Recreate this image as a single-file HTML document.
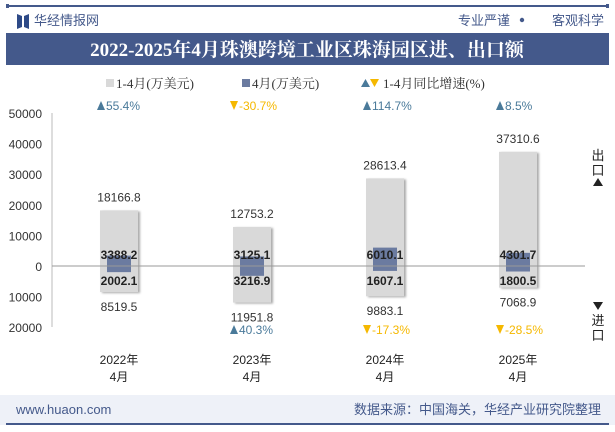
<!DOCTYPE html>
<html><head><meta charset="utf-8"><style>
body{margin:0;width:615px;height:427px;overflow:hidden;background:#fff;font-family:"Liberation Sans","Noto Sans CJK SC",sans-serif;}
</style></head><body>
<svg width="615" height="427" xmlns="http://www.w3.org/2000/svg" font-family="Liberation Sans, Noto Sans CJK SC, sans-serif">
<rect x="6" y="5" width="603" height="2" fill="#44598b"/>
<rect x="6" y="4" width="3" height="4" fill="#44598b"/><rect x="606" y="4" width="3" height="4" fill="#44598b"/>
<g><path d="M17 14 L22 16 L22 27 L17 29 Z M29 14 L24 16 L24 27 L29 29 Z" fill="#2e4a87"/></g>
<text x="34" y="25" font-size="13" fill="#44598b">华经情报网</text>
<text x="510" y="25" font-size="13" fill="#44598b" text-anchor="end">专业严谨</text>
<circle cx="522" cy="20" r="2.2" fill="#44598b"/>
<text x="604" y="25" font-size="13" fill="#44598b" text-anchor="end">客观科学</text>
<rect x="6" y="33" width="603" height="32" fill="#44598b"/>
<text x="307" y="56" font-size="19" font-weight="bold" fill="#fff" text-anchor="middle" font-family="Liberation Serif, Noto Serif CJK SC, serif">2022-2025年4月珠澳跨境工业区珠海园区进、出口额</text>
<g font-size="13" fill="#333" font-family="Liberation Serif, Noto Serif CJK SC, serif">
<rect x="106" y="79" width="8" height="8" fill="#d9d9d9"/><text x="116" y="88">1-4月(万美元)</text>
<rect x="242" y="79" width="8" height="8" fill="#6b7ba0"/><text x="252" y="88">4月(万美元)</text>
<path d="M361 87 L365.5 79 L370 87Z" fill="#4a7a9a"/><path d="M370 79 L379 79 L374.5 87Z" fill="#f5b800"/>
<text x="383" y="88">1-4月同比增速(%)</text>
</g>
<rect x="0" y="395" width="615" height="30" fill="#eef1f8"/>
<text x="16" y="414" font-size="13" fill="#44598b">www.huaon.com</text>
<text x="601" y="414" font-size="13" fill="#44598b" text-anchor="end">数据来源：中国海关，华经产业研究院整理</text>
<rect x="6" y="423" width="603" height="2" fill="#44598b"/>
<g id="plot"></g>
<text x="598" y="160" font-size="13" fill="#222" text-anchor="middle">出</text>
<text x="598" y="175" font-size="13" fill="#222" text-anchor="middle">口</text>
<path d="M593 186 L598 178 L603 186Z" fill="#222"/>
<path d="M593 302 L603 302 L598 310Z" fill="#222"/>
<text x="598" y="325" font-size="13" fill="#222" text-anchor="middle">进</text>
<text x="598" y="340" font-size="13" fill="#222" text-anchor="middle">口</text>
</svg>
<script>
const categories=["2022年","2023年","2024年","2025年"];
const exportYtd=[18166.8,12753.2,28613.4,37310.6];
const importYtd=[8519.5,11951.8,9883.1,7068.9];
const exportApr=[3388.2,3125.1,6010.1,4301.7];
const importApr=[2002.1,3216.9,1607.1,1800.5];
const exportGrowth=[55.4,-30.7,114.7,8.5];
const importGrowth=[null,40.3,-17.3,-28.5];
const yTicks=[50000,40000,30000,20000,10000,0,-10000,-20000];
const NS="http://www.w3.org/2000/svg";
const g=document.getElementById('plot');
const y=v=>266-v*0.00306;
const x=i=>119+i*133;
function el(t,a,p){const e=document.createElementNS(NS,t);for(const k in a)e.setAttribute(k,a[k]);(p||g).appendChild(e);return e;}
yTicks.forEach(v=>{const t=el('text',{x:42,y:y(v)+5,'font-size':12,fill:'#333','text-anchor':'end'});t.textContent=Math.abs(v);

});
el('line',{x1:52,y1:113,x2:52,y2:327,stroke:'#bbb'});
const fmt=v=>v.toFixed(1);
categories.forEach((c,i)=>{
 const cx=x(i);
 const b=el('rect',{x:cx-19,y:y(exportYtd[i]),width:38,height:y(-importYtd[i])-y(exportYtd[i]),fill:'#d9d9d9',style:'filter:drop-shadow(2px 1px 1px #aaa)'});
 
 
 const s=el('rect',{x:cx-12,y:y(exportApr[i]),width:24,height:y(-importApr[i])-y(exportApr[i]),fill:'#6b7ba0'});
 
 
 let t=el('text',{x:cx,y:y(exportYtd[i])-9,'font-size':12,fill:'#333','text-anchor':'middle'});t.textContent=fmt(exportYtd[i]);
 t=el('text',{x:cx,y:y(-importYtd[i])+19,'font-size':12,fill:'#333','text-anchor':'middle'});t.textContent=fmt(importYtd[i]);
 t=el('text',{x:cx,y:259,'font-size':12,'font-weight':'bold',fill:'#222','text-anchor':'middle'});t.textContent=fmt(exportApr[i]);
 t=el('text',{x:cx,y:285,'font-size':12,'font-weight':'bold',fill:'#222','text-anchor':'middle'});t.textContent=fmt(importApr[i]);
 [[exportGrowth[i],110],[importGrowth[i],334]].forEach(([v,yy])=>{ if(v==null)return;
  const up=v>=0,col=up?'#4a7a9a':'#f5b800';
  el('path',{d:up?`M${cx-22} ${yy} L${cx-18} ${yy-9} L${cx-14} ${yy}Z`:`M${cx-22} ${yy-9} L${cx-14} ${yy-9} L${cx-18} ${yy}Z`,fill:col});
  const tt=el('text',{x:cx-13,y:yy,'font-size':12,fill:col});tt.textContent=v+'%';
  
  });
 t=el('text',{x:cx,y:364,'font-size':12,fill:'#222','text-anchor':'middle'});t.textContent=c;
 
 
 t=el('text',{x:cx,y:381,'font-size':12,fill:'#222','text-anchor':'middle'});t.textContent='4月';
});
el('line',{x1:52,y1:266,x2:585,y2:266,stroke:'#999'});
</script>
</body></html>
